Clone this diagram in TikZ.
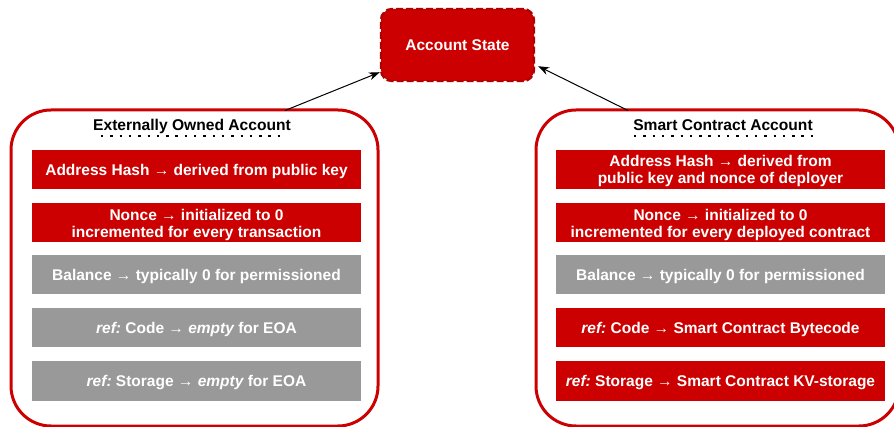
\documentclass[tikz,border=0pt]{standalone}
\usepackage{fontspec}
\setmainfont{Liberation Sans}
\usetikzlibrary{arrows.meta,calc}
\definecolor{acred}{HTML}{CC0000}
\definecolor{acredline}{HTML}{B00000}
\definecolor{acgray}{HTML}{999999}
\tikzset{
  oneline/.style={text height=12.7pt, text depth=1.5pt},
  twoline/.style={text height=29.6pt, text depth=1.5pt},
  statebox/.style={draw=acredline, fill=acred, line width=2.4pt,
    dash pattern=on 7pt off 3pt, rounded corners=11pt,
    minimum width=153pt, minimum height=72pt, inner sep=0pt, oneline,
    text=white, font=\bfseries\fontsize{15.5}{17}\selectfont},
  accountbox/.style={draw=acred, line width=3pt, rounded corners=40pt},
  fieldbox/.style={minimum width=329pt, minimum height=39pt, inner sep=0pt,
    text=white, align=center, oneline, font=\bfseries\fontsize{15.5}{17}\selectfont},
  redfield/.style={fieldbox, fill=acred},
  grayfield/.style={fieldbox, fill=acgray},
  titletext/.style={inner sep=0pt, oneline, font=\bfseries\fontsize{15.6}{17}\selectfont},
  dotrule/.style={line width=2.4pt, dash pattern=on 2.4pt off 6.9pt},
  link/.style={line width=1pt, -{Stealth[length=11pt,width=8pt]}}
}
\begin{document}
\begin{tikzpicture}[x=1pt,y=-1pt]
\useasboundingbox (0,0) rectangle (894,427);
\clip (0,0) rectangle (894,427);

% account state
\node[statebox] (state) at (457.5,45) {Account State};

% the two account kinds
\draw[accountbox] (11,110) rectangle (378,426);
\draw[accountbox] (536,110) rectangle (899,426);
\coordinate (eoaTop) at (285,110.5);
\coordinate (scaTop) at (628,110.5);

% externally owned account
\node[titletext] (eoaTitle) at (192,125) {Externally Owned Account};
\coordinate (eoaDotA) at (101,136);
\coordinate (eoaDotB) at (285,136);
\draw[dotrule] (eoaDotA) -- (eoaDotB);
\node[redfield]  (eoaAddr)  at (196.5,169.5) {Address Hash → derived from public key};
\node[redfield, twoline] (eoaNonce) at (196.5,223) {Nonce → initialized to 0\\incremented for every transaction};
\node[grayfield] (eoaBal)   at (196.5,274.5) {Balance → typically 0 for permissioned};
\node[grayfield] (eoaCode)  at (196.5,328) {\itshape ref:\upshape\ Code → \itshape empty\upshape\ for EOA};
\node[grayfield] (eoaStore) at (196.5,381) {\itshape ref:\upshape\ Storage → \itshape empty\upshape\ for EOA};

% smart contract account
\node[titletext] (scaTitle) at (723,125) {Smart Contract Account};
\coordinate (scaDotA) at (634,136);
\coordinate (scaDotB) at (815,136);
\draw[dotrule] (scaDotA) -- (scaDotB);
\node[redfield, twoline] (scaAddr)  at (720.5,169.5) {Address Hash → derived from\\public key and nonce of deployer};
\node[redfield, twoline] (scaNonce) at (720.5,223) {Nonce → initialized to 0\\incremented for every deployed contract};
\node[grayfield] (scaBal)   at (720.5,274.5) {Balance → typically 0 for permissioned};
\node[redfield]  (scaCode)  at (720.5,328) {\itshape ref:\upshape\ Code → Smart Contract Bytecode};
\node[redfield]  (scaStore) at (720.5,381) {\itshape ref:\upshape\ Storage → Smart Contract KV-storage};

% links to the account state
\draw[link] (eoaTop) -- ($(state.south west)+(0,-10)$);
\draw[link] (scaTop) -- ($(state.south east)+(3,-16)$);
\end{tikzpicture}
\end{document}
